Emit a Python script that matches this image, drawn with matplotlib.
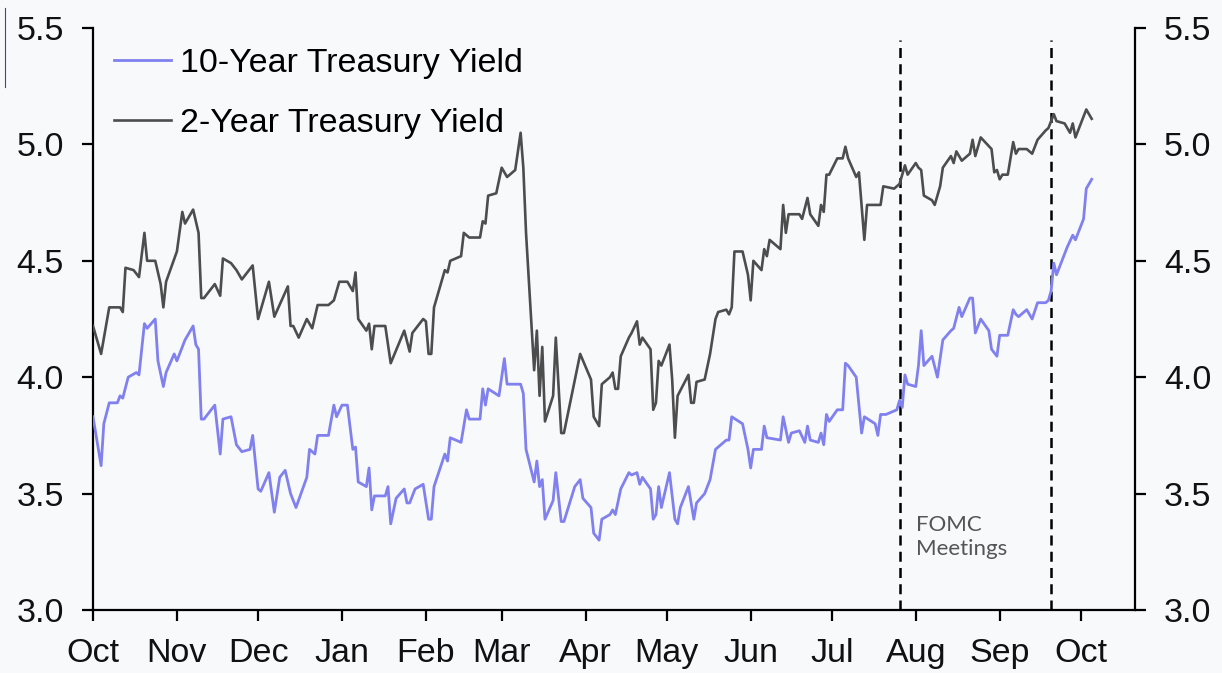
import matplotlib
matplotlib.use("Agg")
import matplotlib.pyplot as plt
import pandas as pd
from matplotlib.lines import Line2D
from matplotlib.ticker import FormatStrFormatter

# 2-year yield (%)
dates_2y = [
    "2022-10-01", "2022-10-04", "2022-10-07", "2022-10-11", "2022-10-12", "2022-10-13", "2022-10-16",
    "2022-10-18", "2022-10-20", "2022-10-21", "2022-10-24", "2022-10-26", "2022-10-27", "2022-10-28",
    "2022-11-01", "2022-11-03", "2022-11-04", "2022-11-07", "2022-11-09", "2022-11-10", "2022-11-11",
    "2022-11-15", "2022-11-17", "2022-11-18", "2022-11-21", "2022-11-23", "2022-11-25", "2022-11-29",
    "2022-12-01", "2022-12-05", "2022-12-07", "2022-12-12", "2022-12-13", "2022-12-14", "2022-12-16",
    "2022-12-19", "2022-12-21", "2022-12-23", "2022-12-27", "2022-12-29", "2022-12-31", "2023-01-03",
    "2023-01-05", "2023-01-06", "2023-01-07", "2023-01-10", "2023-01-11", "2023-01-12", "2023-01-13",
    "2023-01-17", "2023-01-19", "2023-01-24", "2023-01-26", "2023-01-27", "2023-01-31", "2023-02-01",
    "2023-02-02", "2023-02-03", "2023-02-04", "2023-02-06", "2023-02-08", "2023-02-09", "2023-02-10",
    "2023-02-14", "2023-02-15", "2023-02-17", "2023-02-21", "2023-02-22", "2023-02-23", "2023-02-24",
    "2023-02-27", "2023-03-01", "2023-03-03", "2023-03-06", "2023-03-08", "2023-03-09", "2023-03-10",
    "2023-03-13", "2023-03-14", "2023-03-15", "2023-03-16", "2023-03-17", "2023-03-20", "2023-03-21",
    "2023-03-23", "2023-03-24", "2023-03-30", "2023-04-03", "2023-04-04", "2023-04-06", "2023-04-07",
    "2023-04-10", "2023-04-11", "2023-04-12", "2023-04-13", "2023-04-14", "2023-04-17", "2023-04-18",
    "2023-04-20", "2023-04-21", "2023-04-22", "2023-04-25", "2023-04-26", "2023-04-27", "2023-04-28",
    "2023-04-29", "2023-05-02", "2023-05-03", "2023-05-04", "2023-05-05", "2023-05-09", "2023-05-10",
    "2023-05-11", "2023-05-12", "2023-05-15", "2023-05-17", "2023-05-19", "2023-05-20", "2023-05-23",
    "2023-05-24", "2023-05-25", "2023-05-26", "2023-05-29", "2023-05-31", "2023-06-01", "2023-06-02",
    "2023-06-05", "2023-06-06", "2023-06-07", "2023-06-08", "2023-06-12", "2023-06-13", "2023-06-14",
    "2023-06-15", "2023-06-19", "2023-06-20", "2023-06-22", "2023-06-23", "2023-06-26", "2023-06-27",
    "2023-06-28", "2023-06-29", "2023-06-30", "2023-07-03", "2023-07-05", "2023-07-06", "2023-07-07",
    "2023-07-10", "2023-07-11", "2023-07-13", "2023-07-14", "2023-07-19", "2023-07-20", "2023-07-24",
    "2023-07-26", "2023-07-28", "2023-07-29", "2023-08-01", "2023-08-02", "2023-08-03", "2023-08-04",
    "2023-08-07", "2023-08-08", "2023-08-10", "2023-08-11", "2023-08-14", "2023-08-15", "2023-08-16",
    "2023-08-18", "2023-08-21", "2023-08-22", "2023-08-23", "2023-08-25", "2023-08-29", "2023-08-30",
    "2023-08-31", "2023-09-01", "2023-09-02", "2023-09-04", "2023-09-06", "2023-09-07", "2023-09-08",
    "2023-09-11", "2023-09-13", "2023-09-15", "2023-09-18", "2023-09-19", "2023-09-21", "2023-09-22",
    "2023-09-25", "2023-09-27", "2023-09-28", "2023-09-29", "2023-10-03", "2023-10-05",
]
yield_2y = [
    4.22, 4.10, 4.30, 4.30, 4.28, 4.47, 4.46,
    4.43, 4.62, 4.50, 4.50, 4.40, 4.30, 4.41,
    4.54, 4.71, 4.66, 4.72, 4.62, 4.34, 4.34,
    4.40, 4.35, 4.51, 4.49, 4.46, 4.42, 4.48,
    4.25, 4.41, 4.26, 4.39, 4.22, 4.22, 4.17,
    4.25, 4.21, 4.31, 4.31, 4.33, 4.41, 4.41,
    4.37, 4.45, 4.25, 4.20, 4.23, 4.12, 4.22,
    4.22, 4.06, 4.20, 4.11, 4.19, 4.25, 4.24,
    4.10, 4.10, 4.30, 4.38, 4.46, 4.45, 4.50,
    4.52, 4.62, 4.60, 4.60, 4.67, 4.66, 4.78,
    4.79, 4.90, 4.86, 4.89, 5.05, 4.90, 4.62,
    4.03, 4.20, 3.92, 4.13, 3.81, 3.92, 4.17,
    3.76, 3.76, 4.10, 3.99, 3.83, 3.79, 3.97,
    4.00, 4.02, 3.95, 3.95, 4.09, 4.17, 4.19,
    4.24, 4.14, 4.17, 4.12, 3.86, 3.89, 4.07,
    4.05, 4.14, 3.99, 3.74, 3.92, 4.01, 3.89,
    3.89, 3.98, 3.99, 4.10, 4.25, 4.28, 4.29,
    4.27, 4.30, 4.54, 4.54, 4.44, 4.33, 4.50,
    4.46, 4.55, 4.52, 4.59, 4.55, 4.74, 4.62,
    4.70, 4.70, 4.68, 4.77, 4.70, 4.65, 4.74,
    4.71, 4.87, 4.87, 4.94, 4.94, 4.99, 4.94,
    4.86, 4.88, 4.59, 4.74, 4.74, 4.82, 4.81,
    4.83, 4.91, 4.87, 4.92, 4.90, 4.89, 4.78,
    4.76, 4.74, 4.82, 4.90, 4.95, 4.92, 4.97,
    4.93, 4.96, 5.02, 4.95, 5.03, 4.98, 4.88,
    4.89, 4.85, 4.87, 4.87, 5.01, 4.96, 4.98,
    4.98, 4.96, 5.02, 5.06, 5.07, 5.13, 5.10,
    5.09, 5.05, 5.09, 5.03, 5.15, 5.11,
]

# 10-year yield (%)
dates_10y = [
    "2022-10-01", "2022-10-04", "2022-10-05", "2022-10-07", "2022-10-10", "2022-10-11", "2022-10-12",
    "2022-10-14", "2022-10-17", "2022-10-18", "2022-10-20", "2022-10-21", "2022-10-24", "2022-10-25",
    "2022-10-27", "2022-10-28", "2022-10-31", "2022-11-01", "2022-11-04", "2022-11-07", "2022-11-08",
    "2022-11-09", "2022-11-10", "2022-11-11", "2022-11-15", "2022-11-17", "2022-11-18", "2022-11-21",
    "2022-11-23", "2022-11-25", "2022-11-28", "2022-11-29", "2022-12-01", "2022-12-02", "2022-12-05",
    "2022-12-07", "2022-12-09", "2022-12-11", "2022-12-13", "2022-12-15", "2022-12-19", "2022-12-20",
    "2022-12-22", "2022-12-23", "2022-12-27", "2022-12-29", "2022-12-30", "2023-01-01", "2023-01-03",
    "2023-01-05", "2023-01-06", "2023-01-07", "2023-01-10", "2023-01-11", "2023-01-12", "2023-01-13",
    "2023-01-17", "2023-01-18", "2023-01-19", "2023-01-21", "2023-01-24", "2023-01-25", "2023-01-26",
    "2023-01-28", "2023-01-31", "2023-02-02", "2023-02-03", "2023-02-04", "2023-02-08", "2023-02-09",
    "2023-02-10", "2023-02-14", "2023-02-16", "2023-02-17", "2023-02-21", "2023-02-22", "2023-02-23",
    "2023-02-24", "2023-02-28", "2023-03-02", "2023-03-03", "2023-03-06", "2023-03-08", "2023-03-09",
    "2023-03-10", "2023-03-13", "2023-03-14", "2023-03-15", "2023-03-16", "2023-03-17", "2023-03-20",
    "2023-03-21", "2023-03-23", "2023-03-24", "2023-03-28", "2023-03-30", "2023-03-31", "2023-04-03",
    "2023-04-04", "2023-04-06", "2023-04-07", "2023-04-10", "2023-04-11", "2023-04-12", "2023-04-14",
    "2023-04-17", "2023-04-18", "2023-04-20", "2023-04-21", "2023-04-22", "2023-04-25", "2023-04-26",
    "2023-04-27", "2023-04-28", "2023-04-29", "2023-05-02", "2023-05-04", "2023-05-05", "2023-05-06",
    "2023-05-09", "2023-05-11", "2023-05-12", "2023-05-15", "2023-05-17", "2023-05-19", "2023-05-20",
    "2023-05-23", "2023-05-24", "2023-05-25", "2023-05-29", "2023-05-31", "2023-06-01", "2023-06-02",
    "2023-06-05", "2023-06-06", "2023-06-07", "2023-06-12", "2023-06-13", "2023-06-15", "2023-06-16",
    "2023-06-19", "2023-06-21", "2023-06-22", "2023-06-23", "2023-06-26", "2023-06-27", "2023-06-28",
    "2023-06-29", "2023-06-30", "2023-07-03", "2023-07-05", "2023-07-06", "2023-07-07", "2023-07-10",
    "2023-07-12", "2023-07-13", "2023-07-17", "2023-07-18", "2023-07-19", "2023-07-21", "2023-07-25",
    "2023-07-26", "2023-07-27", "2023-07-28", "2023-07-29", "2023-08-01", "2023-08-02", "2023-08-03",
    "2023-08-04", "2023-08-07", "2023-08-09", "2023-08-11", "2023-08-14", "2023-08-15", "2023-08-17",
    "2023-08-18", "2023-08-21", "2023-08-22", "2023-08-23", "2023-08-25", "2023-08-28", "2023-08-29",
    "2023-08-31", "2023-09-01", "2023-09-04", "2023-09-06", "2023-09-07", "2023-09-08", "2023-09-11",
    "2023-09-13", "2023-09-15", "2023-09-18", "2023-09-19", "2023-09-20", "2023-09-21", "2023-09-22",
    "2023-09-25", "2023-09-26", "2023-09-28", "2023-09-29", "2023-10-02", "2023-10-03", "2023-10-05",
]
yield_10y = [
    3.83, 3.62, 3.80, 3.89, 3.89, 3.92, 3.91,
    4.00, 4.02, 4.01, 4.23, 4.21, 4.25, 4.07,
    3.96, 4.02, 4.10, 4.07, 4.16, 4.22, 4.14,
    4.12, 3.82, 3.82, 3.88, 3.67, 3.82, 3.83,
    3.71, 3.68, 3.69, 3.75, 3.52, 3.51, 3.59,
    3.42, 3.57, 3.60, 3.50, 3.44, 3.57, 3.69,
    3.67, 3.75, 3.75, 3.88, 3.83, 3.88, 3.88,
    3.69, 3.70, 3.55, 3.53, 3.61, 3.43, 3.49,
    3.49, 3.53, 3.37, 3.48, 3.52, 3.46, 3.46,
    3.52, 3.54, 3.39, 3.39, 3.53, 3.67, 3.64,
    3.74, 3.72, 3.86, 3.82, 3.82, 3.95, 3.88,
    3.95, 3.92, 4.08, 3.97, 3.97, 3.97, 3.93,
    3.69, 3.55, 3.64, 3.53, 3.56, 3.39, 3.47,
    3.59, 3.38, 3.38, 3.53, 3.56, 3.48, 3.44,
    3.33, 3.30, 3.39, 3.41, 3.43, 3.41, 3.52,
    3.59, 3.58, 3.59, 3.54, 3.57, 3.52, 3.39,
    3.41, 3.53, 3.44, 3.59, 3.39, 3.37, 3.44,
    3.53, 3.39, 3.46, 3.50, 3.56, 3.69, 3.70,
    3.73, 3.73, 3.83, 3.80, 3.69, 3.61, 3.69,
    3.69, 3.79, 3.74, 3.73, 3.83, 3.72, 3.76,
    3.77, 3.72, 3.79, 3.73, 3.72, 3.76, 3.71,
    3.84, 3.81, 3.86, 3.86, 4.06, 4.05, 4.00,
    3.76, 3.83, 3.80, 3.75, 3.84, 3.84, 3.86,
    3.90, 3.87, 4.01, 3.97, 3.96, 4.05, 4.20,
    4.05, 4.09, 4.00, 4.16, 4.20, 4.21, 4.30,
    4.26, 4.34, 4.34, 4.19, 4.25, 4.20, 4.12,
    4.09, 4.18, 4.18, 4.29, 4.27, 4.26, 4.29,
    4.25, 4.32, 4.32, 4.33, 4.37, 4.49, 4.44,
    4.53, 4.56, 4.61, 4.59, 4.68, 4.81, 4.85,
]

fomc_dates = ["2023-07-26", "2023-09-20"]
month_labels = ["Oct", "Nov", "Dec", "Jan", "Feb", "Mar", "Apr", "May",
                "Jun", "Jul", "Aug", "Sep", "Oct"]
y_ticks = [3.0, 3.5, 4.0, 4.5, 5.0, 5.5]

plt.rcParams['font.family'] = ['Liberation Sans', 'DejaVu Sans']

bg = '#f8f9fb'
fs = 24.5
fig = plt.figure(figsize=(12.22, 6.73), dpi=100, facecolor=bg)
ax = fig.add_axes([0.0761, 0.0936, 0.8527, 0.8648], facecolor=bg)

ax.plot(pd.to_datetime(dates_10y), yield_10y, color='#8080ee', lw=2.0,
        label='10-Year Treasury Yield', zorder=3)
ax.plot(pd.to_datetime(dates_2y), yield_2y, color='#4d4d4d', lw=1.9,
        label='2-Year Treasury Yield', zorder=3)

# FOMC meetings
for d in fomc_dates:
    ax.vlines(pd.Timestamp(d), 3.0, 5.45, colors='black', lw=1.8,
              linestyles=(0, (4, 2.5)), zorder=2)
ax.text(pd.Timestamp("2023-08-01"), 3.41, "FOMC\nMeetings", fontsize=16,
        family=['Lato', 'DejaVu Sans'], color='#555555',
        va='top', ha='left', linespacing=1.3)

ax.set_xlim(pd.Timestamp("2022-10-01"), pd.Timestamp("2023-10-21"))
ax.set_ylim(3.0, 5.5)

month_ticks = pd.date_range("2022-10-01", "2023-10-01", freq="MS")
ax.set_xticks(month_ticks)
ax.set_xticklabels(month_labels)
ax.set_yticks(y_ticks)
ax.yaxis.set_major_formatter(FormatStrFormatter('%.1f'))

ax2 = ax.twinx()
ax2.set_ylim(3.0, 5.5)
ax2.set_yticks(y_ticks)
ax2.yaxis.set_major_formatter(FormatStrFormatter('%.1f'))

for a in (ax, ax2):
    a.spines['top'].set_visible(False)
    for s in ('left', 'right', 'bottom'):
        a.spines[s].set_linewidth(1.6)
        a.spines[s].set_color('black')
ax.spines['right'].set_visible(False)
ax2.spines['left'].set_visible(False)
ax2.spines['bottom'].set_visible(False)

ax.tick_params(axis='x', direction='out', length=8, width=1.6, pad=12,
               labelsize=fs, colors='black', labelcolor='#111111')
ax.tick_params(axis='y', direction='out', length=8, width=1.6, pad=13,
               labelsize=fs, colors='black', labelcolor='#111111')
ax2.tick_params(axis='y', direction='out', length=8, width=1.6, pad=13,
                labelsize=fs, colors='black', labelcolor='#111111')

ax.legend(loc='upper left', bbox_to_anchor=(0.02, 0.966), frameon=False,
          fontsize=fs, handlelength=1.68, handletextpad=0.27,
          labelspacing=0.86, borderpad=0, borderaxespad=0)

# thin stray mark at the top-left of the source image
fig.add_artist(Line2D([0.0045, 0.0045], [0.87, 0.988], color='#3a4a8a', lw=0.8))

fig.savefig("out.png", dpi=100, facecolor=bg)
